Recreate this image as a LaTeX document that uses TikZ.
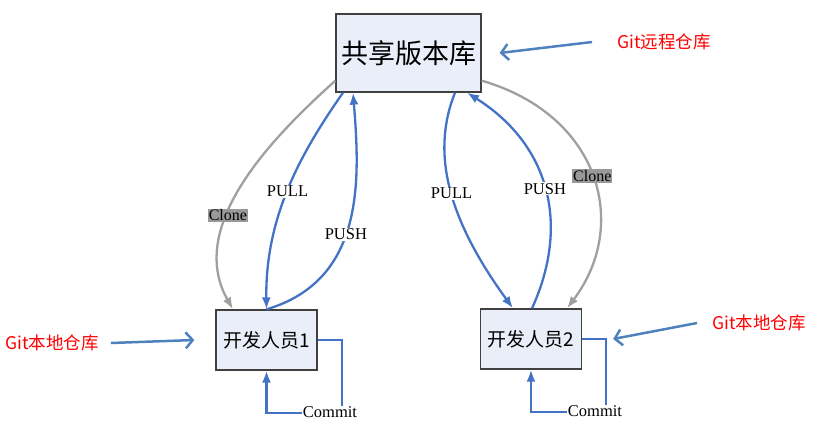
\documentclass[tikz,border=0pt]{standalone}
\usepackage{fontspec}
\setmainfont{Liberation Serif}
\newfontfamily\cjk{Noto Sans CJK SC}
\usetikzlibrary{arrows.meta}
\definecolor{boxfill}{HTML}{E9EEF8}
\definecolor{boxline}{HTML}{404040}
\definecolor{conblue}{HTML}{4472C4}
\definecolor{annblue}{HTML}{4F81BD}
\definecolor{congray}{HTML}{A0A0A0}
\definecolor{clonefill}{HTML}{999999}
\tikzset{
  box/.style={draw=boxline, line width=1.3pt, fill=boxfill, inner sep=0pt},
  bluecon/.style={draw=conblue, line width=2.3pt, -{Latex[length=12pt,width=9pt]}},
  graycon/.style={draw=congray, line width=2.3pt, -{Latex[length=12pt,width=9pt]}},
  lbl/.style={fill=white, inner sep=1pt, font=\fontsize{16.5}{16.5}\selectfont},
  clonelbl/.style={fill=clonefill, inner sep=1pt, font=\fontsize{16}{16}\selectfont},
  ann/.style={text=red, inner sep=0pt, font=\cjk\fontsize{17.5}{18}\selectfont},
  annarrow/.style={draw=annblue, line width=2.5pt, -{Straight Barb[length=7pt,width=16pt]}}
}
\begin{document}
\begin{tikzpicture}[x=1pt,y=-1pt]
\useasboundingbox (0,0) rectangle (827,428);
% boxes
\node[box, minimum width=145pt, minimum height=78pt, font=\cjk\fontsize{27}{27}\selectfont] (top) at (408.5,53) {共享版本库};
\node[box, minimum width=101pt, minimum height=60pt, font=\cjk\fontsize{19}{19}\selectfont] (dev1) at (266.5,340) {开发人员1};
\node[box, minimum width=101pt, minimum height=60pt, font=\cjk\fontsize{19}{19}\selectfont] (dev2) at (531,339) {开发人员2};
% left side connectors
\draw[graycon] ([yshift=12pt]top.south west) .. controls (275,135) and (185,225) .. ([xshift=-33.5pt]dev1.north)
  node[pos=0.63, clonelbl] {Clone};
\draw[bluecon] ([xshift=-65.5pt]top.south) .. controls (303,150) and (265,215) .. (dev1.north)
  node[pos=0.52, lbl] {PULL};
\draw[bluecon] (dev1.north) .. controls (365,280) and (360,180) .. ([xshift=-55.5pt]top.south)
  node[pos=0.45, lbl] {PUSH};
% right side connectors
\draw[bluecon] ([xshift=46.5pt]top.south) .. controls (432,150) and (445,215) .. ([xshift=-18pt]dev2.north)
  node[pos=0.53, lbl] {PULL};
\draw[bluecon] ([xshift=1pt]dev2.north) .. controls (570,225) and (550,145) .. ([xshift=58.5pt]top.south)
  node[pos=0.5, lbl] {PUSH};
\draw[graycon] ([yshift=12pt]top.south east) .. controls (600,115) and (630,225) .. ([xshift=36pt]dev2.north)
  node[pos=0.5, clonelbl] {Clone};
% commit loops
\coordinate (c1) at (342,413);
\draw[bluecon] (dev1.east) -| (c1) -| (dev1.south);
\node[lbl, inner sep=0.5pt] (cm1) at (330,412) {Commit};
\coordinate (c2) at (606,412);
\draw[bluecon] (dev2.east) -| (c2) -| (dev2.south);
\node[lbl, inner sep=0.5pt] (cm2) at (595,411) {Commit};
% annotations
\node[ann] (remote) at (664,42) {Git远程仓库};
\draw[annarrow] ([xshift=-25pt]remote.west) -- ([xshift=18pt]top.east);
\node[ann] (local1) at (52,343) {Git本地仓库};
\draw[annarrow] ([xshift=12pt]local1.east) -- ([xshift=-21pt]dev1.west);
\node[ann] (local2) at (759,323) {Git本地仓库};
\draw[annarrow] ([xshift=-15pt]local2.west) -- ([xshift=31pt]dev2.east);
\end{tikzpicture}
\end{document}
